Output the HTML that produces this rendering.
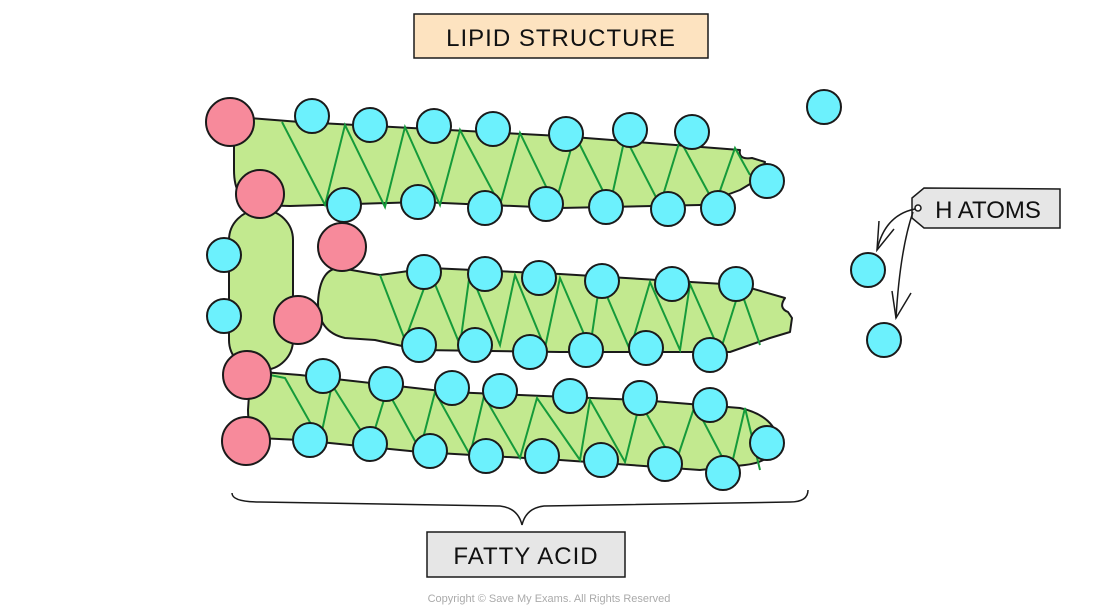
<!DOCTYPE html>
<html><head><meta charset="utf-8"><style>
html,body{margin:0;padding:0;background:#fff;width:1100px;height:611px;overflow:hidden}
svg{display:block}
text{font-family:"Liberation Sans",sans-serif}
</style></head><body>
<svg width="1100" height="611" viewBox="0 0 1100 611" xmlns="http://www.w3.org/2000/svg">
<g stroke="#1a1a1a" stroke-width="2" stroke-linejoin="round">
<!-- glycerol -->
<rect x="229" y="210" width="64" height="160" rx="30" fill="#c2e98f"/>
<!-- chain1 -->
<path d="M250,118 L300,122 L560,136 L740,150 Q738,160 752,158 L765,162 L760,178 L740,190 L700,205 L560,208 L420,202 L290,206 L255,205 Q234,200 234,170 L234,140 Q234,118 250,118 Z" fill="#c2e98f"/>
<!-- chain2 -->
<path d="M340,268 L380,275 L430,268 L560,274 L740,285 L785,298 Q778,308 788,312 L792,318 L790,332 L770,338 L730,352 L560,352 L420,350 L375,340 L345,338 Q318,332 318,302 Q320,268 340,268 Z" fill="#c2e98f"/>
<!-- chain3 -->
<path d="M262,372 L300,375 L450,392 L640,400 L740,408 Q772,415 778,438 Q775,462 745,465 L700,470 L560,460 L420,452 L300,440 L258,438 Q248,430 248,410 L250,380 Q252,372 262,372 Z" fill="#c2e98f"/>
</g>
<g fill="none" stroke="#159a3a" stroke-width="2">
<polyline points="282,122 325,205 345,125 385,207 405,127 440,205 460,130 500,205 520,133 555,205 575,135 610,205 625,137 660,205 680,140 715,205 735,148 750,175"/>
<polyline points="380,275 405,340 430,272 460,345 470,272 500,345 515,275 545,348 560,278 590,348 600,280 630,350 650,282 680,350 690,284 720,352 740,288 760,345"/>
<polyline points="270,375 285,378 320,440 332,385 370,445 387,390 420,450 435,392 470,455 484,396 520,458 537,398 580,460 590,400 625,462 640,402 675,465 695,405 730,472 745,408 760,470"/>
</g>
<g stroke="#1a1a1a" stroke-width="2" fill="#f78a9b">
<circle cx="230" cy="122" r="24"/><circle cx="260" cy="194" r="24"/><circle cx="342" cy="247" r="24"/>
<circle cx="298" cy="320" r="24"/><circle cx="247" cy="375" r="24"/><circle cx="246" cy="441" r="24"/>
</g>
<g stroke="#1a1a1a" stroke-width="2" fill="#6cf1fd">
<circle cx="312" cy="116" r="17"/><circle cx="370" cy="125" r="17"/><circle cx="434" cy="126" r="17"/><circle cx="493" cy="129" r="17"/><circle cx="566" cy="134" r="17"/><circle cx="630" cy="130" r="17"/><circle cx="692" cy="132" r="17"/>
<circle cx="344" cy="205" r="17"/><circle cx="418" cy="202" r="17"/><circle cx="485" cy="208" r="17"/><circle cx="546" cy="204" r="17"/><circle cx="606" cy="207" r="17"/><circle cx="668" cy="209" r="17"/><circle cx="718" cy="208" r="17"/><circle cx="767" cy="181" r="17"/>
<circle cx="424" cy="272" r="17"/><circle cx="485" cy="274" r="17"/><circle cx="539" cy="278" r="17"/><circle cx="602" cy="281" r="17"/><circle cx="672" cy="284" r="17"/><circle cx="736" cy="284" r="17"/>
<circle cx="419" cy="345" r="17"/><circle cx="475" cy="345" r="17"/><circle cx="530" cy="352" r="17"/><circle cx="586" cy="350" r="17"/><circle cx="646" cy="348" r="17"/><circle cx="710" cy="355" r="17"/>
<circle cx="323" cy="376" r="17"/><circle cx="386" cy="384" r="17"/><circle cx="452" cy="388" r="17"/><circle cx="500" cy="391" r="17"/><circle cx="570" cy="396" r="17"/><circle cx="640" cy="398" r="17"/><circle cx="710" cy="405" r="17"/>
<circle cx="310" cy="440" r="17"/><circle cx="370" cy="444" r="17"/><circle cx="430" cy="451" r="17"/><circle cx="486" cy="456" r="17"/><circle cx="542" cy="456" r="17"/><circle cx="601" cy="460" r="17"/><circle cx="665" cy="464" r="17"/><circle cx="723" cy="473" r="17"/><circle cx="767" cy="443" r="17"/>
<circle cx="224" cy="255" r="17"/><circle cx="224" cy="316" r="17"/>
<circle cx="824" cy="107" r="17"/><circle cx="868" cy="270" r="17"/><circle cx="884" cy="340" r="17"/>
</g>
<!-- labels -->
<rect x="414" y="14" width="294" height="44" fill="#fde3c0" stroke="#1a1a1a" stroke-width="1.5"/>
<text x="561" y="46" font-size="24" text-anchor="middle" fill="#111" letter-spacing="1">LIPID  STRUCTURE</text>
<rect x="427" y="532" width="198" height="45" fill="#e6e6e6" stroke="#1a1a1a" stroke-width="1.5"/>
<text x="526" y="564" font-size="24" text-anchor="middle" fill="#111" letter-spacing="1">FATTY  ACID</text>
<path d="M924,188 L1060,189 L1060,228 L924,228 L912,218 L912,198 Z" fill="#e6e6e6" stroke="#1a1a1a" stroke-width="1.5"/>
<text x="988" y="218" font-size="24" text-anchor="middle" fill="#111">H  ATOMS</text>
<g fill="none" stroke="#1a1a1a" stroke-width="1.5">
<circle cx="918" cy="208" r="3" fill="#fff"/>
<path d="M915,209 Q885,215 877,250"/><path d="M879,221 L877,250 L894,229"/>
<path d="M913,212 Q900,250 896,318"/><path d="M892,291 L896,318 L911,293"/>
<path d="M232,493 Q232,502 260,502 L500,506 Q518,508 522,525 Q526,508 544,506 L790,502 Q808,502 808,490"/>
</g>
<text x="549" y="602" font-size="11" text-anchor="middle" fill="#aaa">Copyright © Save My Exams. All Rights Reserved</text>
</svg>
</body></html>
